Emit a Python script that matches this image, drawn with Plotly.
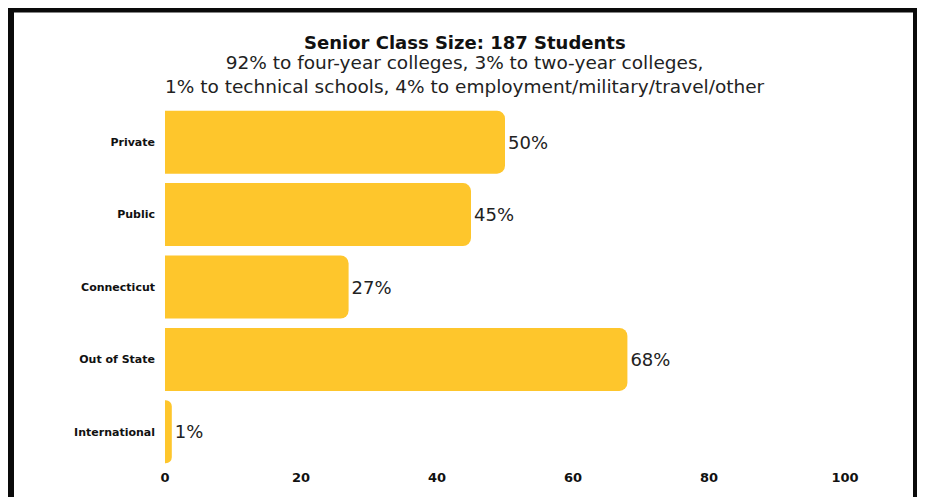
import plotly.graph_objects as go

categories = ["Private", "Public", "Connecticut", "Out of State", "International"]
values = [50, 45, 27, 68, 1]
labels = ["50%", "45%", "27%", "68%", "1%"]
x_ticks = [0, 20, 40, 60, 80, 100]

title_text = "Senior Class Size: 187 Students"
sub1 = "92% to four-year colleges, 3% to two-year colleges,"
sub2 = "1% to technical schools, 4% to employment/military/travel/other"

BAR = "#FEC62C"
FONT = "DejaVu Sans"

OFF = 8  # page body margin offset
W, H = 925, 497
L, R, T, B = 165 - OFF, 925 - (845 - OFF), 106 - OFF, 497 - (468 - OFF)
pw, ph = W - L - R, H - T - B

def px(x):
    return (x - OFF - L) / pw

def py(y):
    return (H - B - (y - OFF)) / ph

fig = go.Figure(go.Bar(
    y=categories, x=values, orientation="h",
    marker=dict(color=BAR, line=dict(width=0)),
    text=labels, textposition="outside",
    textfont=dict(family=FONT, size=18, color="#222222"),
    cliponaxis=False,
))

fig.update_layout(
    width=W, height=H,
    margin=dict(l=L, r=R, t=T, b=B),
    paper_bgcolor="white", plot_bgcolor="white",
    bargap=0.13, barcornerradius=8,
    showlegend=False,
    xaxis=dict(range=[0, 100], tickvals=x_ticks, showgrid=False, zeroline=False,
               showline=False, ticks="",
               tickfont=dict(family=FONT, size=13, color="#111111", weight="bold")),
    yaxis=dict(autorange="reversed", showgrid=False, zeroline=False, showline=False,
               ticks="", ticklabelstandoff=9,
               tickfont=dict(family=FONT, size=11, color="#111111", weight="bold")),
)

fig.add_annotation(text="<b>" + title_text + "</b>", xref="paper", yref="paper",
                   x=px(465), y=py(42), showarrow=False, xanchor="center", yanchor="middle",
                   font=dict(family=FONT, size=18, color="#111111"))
fig.add_annotation(text=sub1 + "<br>" + sub2, xref="paper", yref="paper",
                   x=px(465), y=py(75), showarrow=False, xanchor="center", yanchor="middle",
                   align="center",
                   font=dict(family=FONT, size=18.5, color="#222222"))

# black frame
fig.add_shape(type="rect", xref="paper", yref="paper",
              x0=px(11), x1=px(916), y0=py(540), y1=py(9.5),
              line=dict(color="#0a0a0a", width=6), fillcolor="rgba(0,0,0,0)", layer="above")

fig.write_html("out.html")
